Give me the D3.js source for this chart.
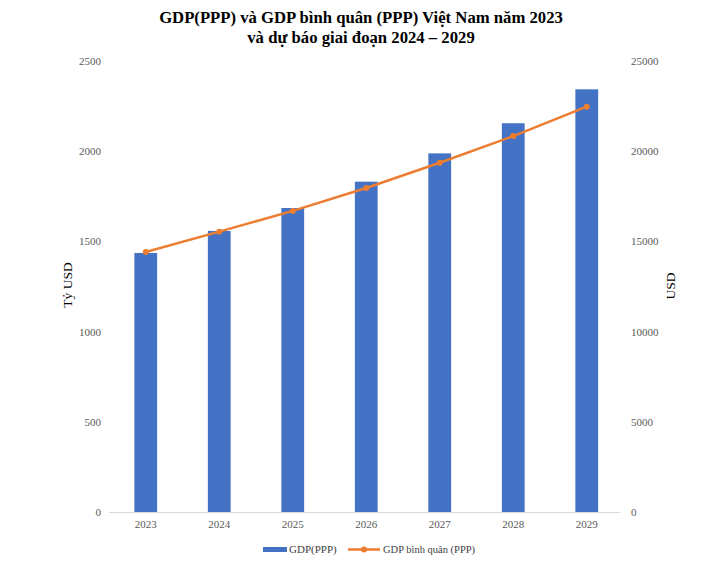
<!DOCTYPE html>
<html><head><meta charset="utf-8">
<script src="https://cdn.jsdelivr.net/npm/d3@7"></script>
<style>body{margin:0;background:#fff}svg{display:block}
svg text{font-family:"Liberation Serif","Times New Roman",serif}</style>
</head><body>
<script>
const years = ["2023","2024","2025","2026","2027","2028","2029"];
const gdpPPP = [1436, 1558, 1685, 1831, 1988, 2155, 2343];
const gdpPerCapita = [14410, 15540, 16690, 17960, 19360, 20840, 22470];
const leftTicks = [0, 500, 1000, 1500, 2000, 2500];
const rightTicks = [0, 5000, 10000, 15000, 20000, 25000];
const titleLines = ["GDP(PPP) và GDP bình quân (PPP) Việt Nam năm 2023", "và dự báo giai đoạn 2024 – 2029"];
const seriesNames = ["GDP(PPP)", "GDP bình quân (PPP)"];

const W = 718, H = 563;
const svg = d3.select("body").append("svg").attr("width", W).attr("height", H);

const x = d3.scaleBand().domain(years).range([109, 623.5]).paddingInner(0.69).paddingOuter(0.345);
const yL = d3.scaleLinear().domain([0, 2500]).range([512, 61]);
const yR = d3.scaleLinear().domain([0, 25000]).range([512, 61]);

// title
svg.append("g").selectAll("text").data(titleLines).join("text")
  .attr("x", 361).attr("y", (d, i) => 23 + i * 20)
  .attr("text-anchor", "middle")
  .attr("font-weight", "bold").attr("font-size", 16.7).attr("fill", "#000").text(d => d);

// left axis
const axL = svg.append("g").attr("transform", "translate(101,0)")
  .call(d3.axisLeft(yL).tickValues(leftTicks).tickSize(0).tickPadding(0).tickFormat(d3.format("d")));
axL.select(".domain").remove();
axL.selectAll("text").attr("font-size", 11).attr("fill", "#595959");

// right axis
const axR = svg.append("g").attr("transform", "translate(631,0)")
  .call(d3.axisRight(yR).tickValues(rightTicks).tickSize(0).tickPadding(0).tickFormat(d3.format("d")));
axR.select(".domain").remove();
axR.selectAll("text").attr("font-size", 11).attr("fill", "#595959");

// bottom axis
const axB = svg.append("g").attr("transform", "translate(0,512)")
  .call(d3.axisBottom(x).tickSize(0).tickPadding(8));
axB.select(".domain").attr("stroke", "#d9d9d9").attr("d", "M109,0.5H620");
axB.selectAll("text").attr("font-size", 11).attr("fill", "#595959");

// axis titles
svg.append("text").attr("transform", "translate(72,285) rotate(-90)")
  .attr("text-anchor", "middle").attr("font-size", 13.5).attr("fill", "#000").text("Tỷ USD");
svg.append("text").attr("transform", "translate(675,286) rotate(-90)")
  .attr("text-anchor", "middle").attr("font-size", 13.5).attr("fill", "#000").text("USD");

// bars
svg.append("g").selectAll("rect").data(years).join("rect")
  .attr("x", d => x(d)).attr("width", x.bandwidth())
  .attr("y", (d, i) => yL(gdpPPP[i])).attr("height", (d, i) => yL(0) - yL(gdpPPP[i]))
  .attr("fill", "#4472C4");

// line
const cx = d => x(d) + x.bandwidth() / 2;
const line = d3.line().x((d, i) => cx(years[i])).y(d => yR(d));
svg.append("path").datum(gdpPerCapita).attr("d", line)
  .attr("fill", "none").attr("stroke", "#ED7D31").attr("stroke-width", 2.5).attr("stroke-linejoin", "round");
svg.append("g").selectAll("circle").data(gdpPerCapita).join("circle")
  .attr("cx", (d, i) => cx(years[i])).attr("cy", d => yR(d)).attr("r", 3)
  .attr("fill", "#ED7D31");

// legend
const lg = svg.append("g");
lg.append("rect").attr("x", 263).attr("y", 547).attr("width", 24).attr("height", 5).attr("fill", "#4472C4");
lg.append("text").attr("x", 289).attr("y", 553).attr("font-size", 11).attr("fill", "#404040").text(seriesNames[0]);
lg.append("line").attr("x1", 348).attr("x2", 380).attr("y1", 549.5).attr("y2", 549.5).attr("stroke", "#ED7D31").attr("stroke-width", 2.5);
lg.append("circle").attr("cx", 364).attr("cy", 549.5).attr("r", 3).attr("fill", "#ED7D31");
lg.append("text").attr("x", 383).attr("y", 553).attr("font-size", 10.5).attr("fill", "#404040").text(seriesNames[1]);
</script>
</body></html>
